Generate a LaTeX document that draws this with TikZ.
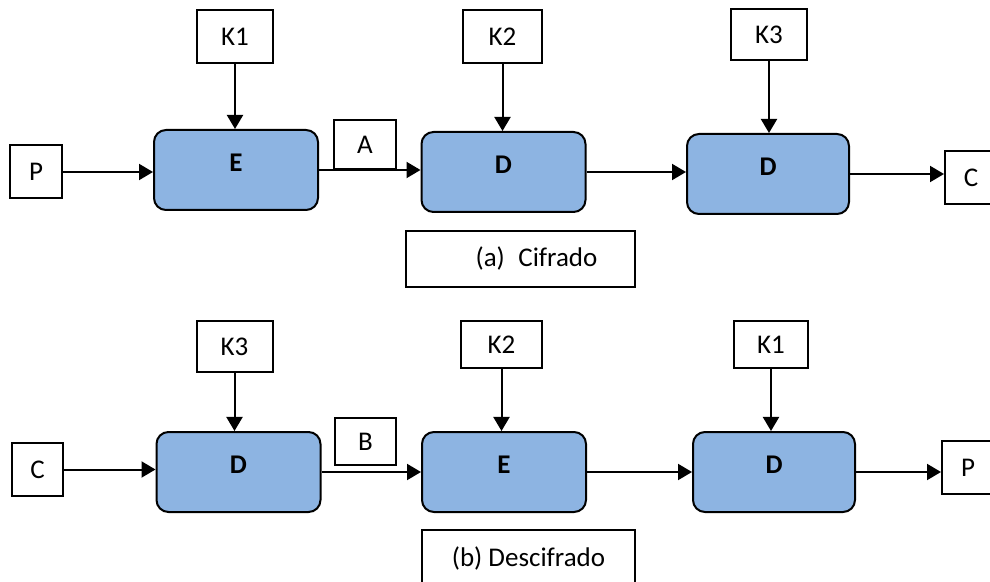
\documentclass[tikz,border=0pt]{standalone}
\usepackage{fontspec}
\setmainfont{Carlito}
\usetikzlibrary{arrows.meta}

\definecolor{blockblue}{RGB}{141,180,226}

\newcommand{\diagfont}{\fontsize{13.5}{16}\selectfont}

\tikzset{
    keybox/.style={draw, line width=1pt, inner sep=0pt, minimum width=38pt, minimum height=26.5pt},
    tagbox/.style={draw, line width=1pt, inner sep=0pt, minimum width=26pt, minimum height=26.5pt},
    block/.style={draw, fill=blockblue, line width=1pt, rounded corners=6pt, inner sep=0pt,
        minimum width=82pt, minimum height=40pt, font=\diagfont\bfseries, text height=9pt, text depth=7.3pt},
    caption/.style={draw, line width=0.8pt, inner sep=0pt, minimum height=28pt},
    flow/.style={line width=1pt, -{Triangle[length=7pt, width=8pt]}},
}

\begin{document}
\begin{tikzpicture}[x=0.5pt, y=-0.5pt, font=\diagfont]
    \useasboundingbox (0,0) rectangle (990,582);

    % (a) cifrado: E -> D -> D
    \node[tagbox] (p1) at (36,172) {P};
    \node[keybox] (k1) at (235,36.5) {K1};
    \node[block] (e1) at (236,170) {E};
    \node[tagbox, minimum width=31pt, minimum height=24.5pt] (a) at (365,144.5) {A};
    \node[keybox, minimum width=39.5pt] (k2) at (502.5,36.5) {K2};
    \node[block] (d1) at (503.5,172) {D};
    \node[keybox, minimum height=25.5pt] (k3) at (769,34.5) {K3};
    \node[block, minimum width=81pt] (d2) at (768,174) {D};
    \node[tagbox] (c1) at (971,178) {C};
    \node[caption, minimum width=114.5pt] (capa) at (520.5,259) {\hspace*{16pt}(a)\enspace Cifrado};

    \draw[flow] (p1) -- (p1 -| e1.west);
    \draw[flow] (k1) -- (k1 |- e1.north);
    \draw[flow] (e1) -- (e1 -| d1.west);
    \draw[flow] (k2) -- (k2 |- d1.north);
    \draw[flow] (d1) -- (d1 -| d2.west);
    \draw[flow] (k3) -- (k3 |- d2.north);
    \draw[flow] (d2) -- (d2 -| c1.west);

    % (b) descifrado: D -> E -> D
    \node[tagbox, minimum width=25.5pt] (c2) at (37.5,469.5) {C};
    \node[keybox, minimum height=25.5pt] (k3b) at (234.5,346.5) {K3};
    \node[block] (d3) at (238.5,472) {D};
    \node[tagbox, minimum width=30.5pt, minimum height=23.5pt] (b) at (365.5,441.5) {B};
    \node[keybox, minimum width=40.5pt, minimum height=23.5pt] (k2b) at (501.5,344.5) {K2};
    \node[block] (e2) at (504,472) {E};
    \node[keybox, minimum width=37pt, minimum height=23.5pt] (k1b) at (771,344.5) {K1};
    \node[block, minimum width=81pt] (d4) at (774,472) {D};
    \node[tagbox] (p2) at (968,467.5) {P};
    \node[caption, minimum width=106.5pt] (capb) at (528.5,558) {(b) Descifrado};

    \draw[flow] (c2) -- (c2 -| d3.west);
    \draw[flow] (k3b) -- (k3b |- d3.north);
    \draw[flow] (d3) -- (d3 -| e2.west);
    \draw[flow] (k2b) -- (k2b |- e2.north);
    \draw[flow] (e2) -- (e2 -| d4.west);
    \draw[flow] (k1b) -- (k1b |- d4.north);
    \draw[flow] (d4) -- (d4 -| p2.west);
\end{tikzpicture}
\end{document}
